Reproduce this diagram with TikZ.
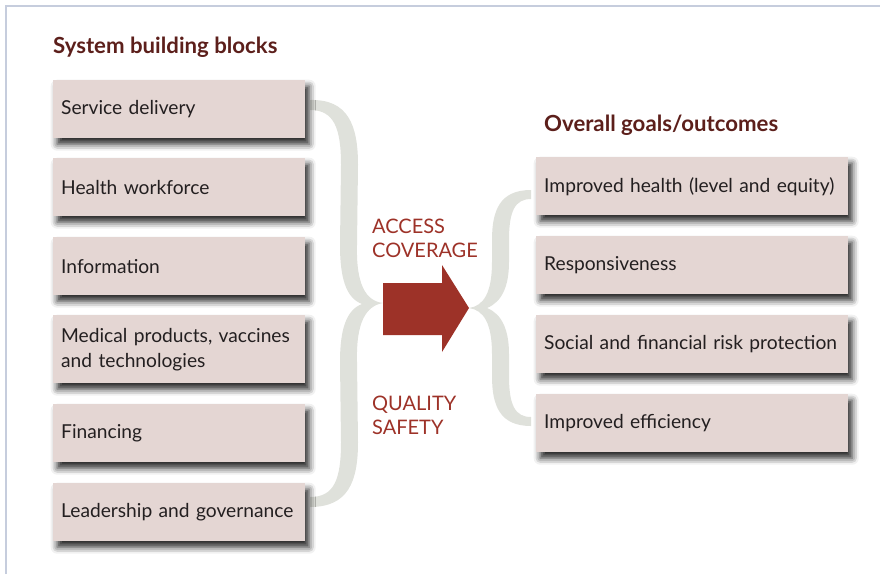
\documentclass[tikz,border=0pt]{standalone}
\usepackage{fontspec}
\setmainfont{Lato}
\usetikzlibrary{shadows.blur}
\definecolor{boxfill}{HTML}{E4D6D3}
\definecolor{bracecol}{HTML}{DFE1DB}
\definecolor{titlecol}{HTML}{5C1F1B}
\definecolor{accent}{HTML}{9D3228}
\definecolor{ink}{HTML}{231F20}
\definecolor{framecol}{HTML}{C6CDDD}
\begin{document}
\begin{tikzpicture}[x=1pt,y=-1pt,
  block/.style={anchor=north west, fill=boxfill, text=ink, minimum height=58pt,
    align=left, inner xsep=8pt, inner ysep=0pt,
    font=\fontsize{19.2}{25}\selectfont,
    blur shadow={shadow xshift=4pt, shadow yshift=-6pt, shadow blur radius=6.5pt, shadow opacity=85}},
  leftblock/.style={block, text width=236pt},
  rightblock/.style={block, text width=296pt},
  heading/.style={anchor=base west, text=titlecol, inner sep=0pt, font=\fontsize{22.2}{24}\selectfont\bfseries},
  flowlabel/.style={anchor=base west, text=accent, inner sep=0pt, font=\fontsize{20}{24}\selectfont},
  brace/.style={fill=bracecol, draw=none},
]
\useasboundingbox (0,0) rectangle (880,574);
% outer frame
\draw[framecol, line width=2.5pt] (6,574) -- (6,6) -- (880,6);

% left brace gathering the building blocks
\path[brace] (310,100) .. controls (348,99) and (358,125) .. (358,165)
  -- (357,245) .. controls (356,285) and (366,301) .. (383,303)
  .. controls (366,306) and (356,322) .. (357,362)
  -- (358,442) .. controls (358,482) and (348,507) .. (310,507)
  -- (310,497) .. controls (334,497) and (341,480) .. (341,442)
  -- (340,362) .. controls (340,330) and (346,310) .. (362,304)
  .. controls (346,298) and (340,278) .. (340,245)
  -- (341,165) .. controls (341,128) and (334,110) .. (310,110) -- cycle;

% right brace fanning out to the outcomes
\path[brace] (531,190) .. controls (500,190) and (492,210) .. (492,240)
  -- (492,262) .. controls (492,292) and (484,306) .. (469,308)
  .. controls (484,310) and (492,324) .. (492,354)
  -- (492,376) .. controls (492,406) and (500,426) .. (531,426)
  -- (531,417) .. controls (515,417) and (509,405) .. (509,376)
  -- (509,354) .. controls (509,330) and (502,314) .. (487,308)
  .. controls (502,302) and (509,286) .. (509,262)
  -- (509,240) .. controls (509,211) and (515,199) .. (531,199) -- cycle;

% central arrow
\fill[accent] (383,283) -- (442,283) -- (442,265) -- (469,308) -- (442,352) -- (442,335) -- (383,335) -- cycle;

% headings
\node[heading] (hblocks) at (53,53) {System building blocks};
\node[heading] (hgoals) at (544,131) {Overall goals/outcomes};

% labels around the arrow
\node[flowlabel] (access) at (372,233) {ACCESS};
\node[flowlabel] (coverage) at (372,257) {COVERAGE};
\node[flowlabel] (quality) at (372,410) {QUALITY};
\node[flowlabel] (safety) at (372,434) {SAFETY};

% building blocks
\node[leftblock] (b1) at (53,80) {Service delivery};
\node[leftblock] (b2) at (53,158) {Health workforce};
\node[leftblock] (b3) at (53,237) {Information};
\node[leftblock, minimum height=68pt] (b4) at (53,315) {Medical products, vaccines\\and technologies};
\node[leftblock] (b5) at (53,404) {Financing};
\node[leftblock] (b6) at (53,483) {Leadership and governance};

% goals and outcomes
\node[rightblock] (g1) at (536,157) {Improved health (level and equity)};
\node[rightblock] (g2) at (536,236) {Responsiveness};
\node[rightblock] (g3) at (536,315) {Social and financial risk protection};
\node[rightblock] (g4) at (536,394) {Improved efficiency};
\end{tikzpicture}
\end{document}
